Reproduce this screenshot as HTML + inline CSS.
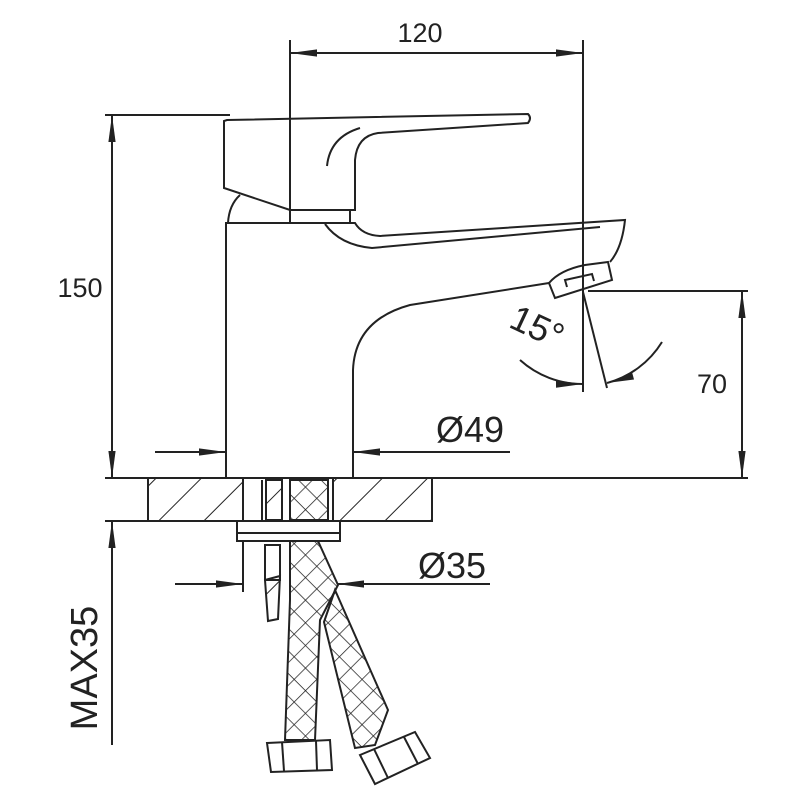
<!DOCTYPE html>
<html><head><meta charset="utf-8"><style>html,body{margin:0;padding:0;background:#fff}svg{display:block}</style></head>
<body>
<svg width="800" height="800" viewBox="0 0 800 800" xmlns="http://www.w3.org/2000/svg" font-family="Liberation Sans, sans-serif">
<defs>
<marker id="b" viewBox="0 0 30 10" refX="30" refY="5" markerWidth="30" markerHeight="9" orient="auto-start-reverse" markerUnits="userSpaceOnUse"><path d="M0,1 L30,5 L0,9Z" fill="#222"/></marker>
<pattern id="h" patternUnits="userSpaceOnUse" width="32" height="32" patternTransform="rotate(45)"><line x1="0" y1="0" x2="0" y2="32" stroke="#222" stroke-width="2"/></pattern>
<pattern id="x" patternUnits="userSpaceOnUse" width="16" height="16" patternTransform="rotate(45)"><line x1="0" y1="0" x2="0" y2="16" stroke="#222" stroke-width="1.5"/><line x1="0" y1="0" x2="16" y2="0" stroke="#222" stroke-width="1.5"/></pattern>
</defs>
<g fill="none" stroke="#222" stroke-width="2">
<line x1="290" y1="40" x2="290" y2="222"/>
<line x1="583" y1="40" x2="583" y2="392"/>
<line x1="290" y1="53" x2="583" y2="53" marker-start="url(#b)" marker-end="url(#b)"/>
<line x1="105" y1="115" x2="230" y2="115"/>
<line x1="112" y1="115" x2="112" y2="478" marker-start="url(#b)" marker-end="url(#b)"/>
<path d="M227,120 L528,114 Q532,118 528,123 L378,133 Q357,136 355,160 L355,210 L290,210 L224,188 L224,121 Z"/>
<path d="M327,166 Q330,137 360,128"/>
<line x1="290" y1="210" x2="290" y2="222"/>
<line x1="350" y1="210" x2="350" y2="223"/>
<path d="M240,195 Q229,205 228,223"/>
<path d="M226,478 L226,223 L355,223 Q362,235 380,236 L625,220 Q622,248 610,262"/>
<path d="M325,224 Q340,245 372,248 L600,227"/>
<path d="M549,283 L555,298 L612,280 L608,262 L585,265 Q560,270 549,283 Z"/>
<path d="M567,287 L565,280 L592,274 L594,281"/>
<path d="M549,283 L410,305 Q355,320 353,370 L353,478"/>
<line x1="155" y1="452" x2="226" y2="452" marker-end="url(#b)"/>
<line x1="510" y1="452" x2="353" y2="452" marker-end="url(#b)"/>
<line x1="588" y1="291" x2="748" y2="291"/>
<line x1="742" y1="291" x2="742" y2="478" marker-start="url(#b)" marker-end="url(#b)"/>
<line x1="583" y1="292" x2="607" y2="388"/>
<path d="M520,360 A93,93 0 0 0 583,384" marker-end="url(#b)"/>
<path d="M662,342 A93,93 0 0 1 607,383" marker-end="url(#b)"/>
<line x1="105" y1="478" x2="748" y2="478"/>
<line x1="105" y1="521" x2="245" y2="521"/>
<rect x="148" y="478" width="95" height="43" fill="url(#h)"/>
<rect x="333" y="478" width="99" height="43" fill="url(#h)"/>
<line x1="333" y1="521" x2="432" y2="521"/>
<rect x="266" y="480" width="16" height="40" fill="url(#h)"/>
<rect x="290" y="480" width="38" height="40" fill="url(#x)"/>
<line x1="262" y1="480" x2="262" y2="521"/>
<rect x="237" y="521" width="103" height="20"/>
<line x1="237" y1="533" x2="340" y2="533"/>
<line x1="243" y1="541" x2="243" y2="592"/>
<rect x="265" y="545" width="15" height="35"/>
<path d="M265,580 L280,576 L278,619 L268,621 Z" fill="url(#h)"/>
<path d="M290,541 L318,541 L338,585 L320,620 L315,740 L285,740 L290,600 Z" fill="url(#x)"/>
<path d="M324,622 L335,590 L388,710 L375,745 L355,748 Z" fill="url(#x)"/>
<path d="M267,743 L330,740 L332,770 L271,772 Z" fill="#fff"/>
<line x1="282" y1="742" x2="284" y2="771"/><line x1="316" y1="741" x2="317" y2="770"/>
<path d="M360,755 L415,732 L430,758 L375,784 Z" fill="#fff"/>
<line x1="374" y1="749" x2="388" y2="778"/><line x1="404" y1="737" x2="418" y2="764"/>
<line x1="175" y1="584" x2="243" y2="584" marker-end="url(#b)"/>
<line x1="490" y1="584" x2="337" y2="584" marker-end="url(#b)"/>
<line x1="112" y1="745" x2="112" y2="521" marker-end="url(#b)"/>
</g>
<g fill="#222">
<text x="420" y="42" text-anchor="middle" font-size="27">120</text>
<text x="80" y="297" text-anchor="middle" font-size="27">150</text>
<text x="712" y="393" text-anchor="middle" font-size="27">70</text>
<text x="470" y="442" text-anchor="middle" font-size="36">Ø49</text>
<text x="452" y="578" text-anchor="middle" font-size="36">Ø35</text>
<text transform="translate(97,668) rotate(-90)" text-anchor="middle" font-size="38">MAX35</text>
<text transform="translate(532,338) rotate(25)" text-anchor="middle" font-size="36">15°</text>
</g>
</svg>
</body></html>
